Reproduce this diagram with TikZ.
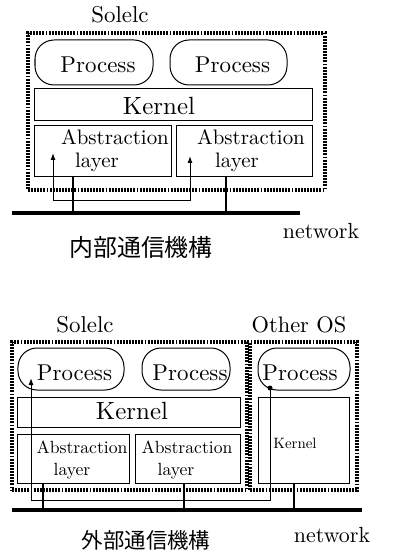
\documentclass[tikz,border=0pt]{standalone}
\usepackage{fontspec}
\setmainfont{lmroman10-regular}[Extension=.otf]
\newfontfamily\cjk{Noto Sans CJK JP}
\usetikzlibrary{arrows.meta}
\begin{document}
\begin{tikzpicture}[x=1bp,y=-1bp,
  every node/.style={inner sep=0pt, outer sep=0pt},
  dotbox/.style={draw, line width=3.3bp, dash pattern=on 1.9bp off 1.2bp},
  procbox/.style={draw, line width=1bp, rounded corners=19bp},
  plainbox/.style={draw, line width=1bp},
  lbl/.style={anchor=base, font=\fontsize{23}{27}\selectfont},
  klbl/.style={anchor=base, font=\fontsize{25}{29}\selectfont},
  absA/.style={anchor=base, font=\fontsize{21}{24}\selectfont},
  absB/.style={anchor=base, font=\fontsize{17.7}{21}\selectfont},
  small/.style={anchor=base, font=\fontsize{15}{18}\selectfont},
  net/.style={line width=3.2bp},
  link/.style={line width=2.6bp},
  sig/.style={line width=1bp},
  tip/.style={-{Latex[length=7bp,width=5bp]}}
]
\useasboundingbox (0,0) rectangle (395,552);

% ---------- top diagram ----------
\node[lbl] (sol1) at (120,23) {Solelc};
\node[dotbox, minimum width=297bp, minimum height=157bp] (o1) at (176.5,111.5) {};
\node[procbox, minimum width=118bp, minimum height=45bp] (p1) at (94,62.5) {};
\node[lbl] (p1t) at (98,73) {Process};
\node[procbox, minimum width=117bp, minimum height=45bp] (p2) at (228.5,62.5) {};
\node[lbl] (p2t) at (232.5,73) {Process};
\node[plainbox, minimum width=277bp, minimum height=32bp] (k1) at (173.5,105) {};
\node[klbl] (k1t) at (159,115) {Kernel};
\node[plainbox, minimum width=136bp, minimum height=51bp] (a1) at (103,151.5) {};
\node[absA] (a1t1) at (115,145) {Abstraction};
\node[absA] (a1t2) at (97,168) {layer};
\node[plainbox, minimum width=136bp, minimum height=51bp] (a2) at (244,151.5) {};
\node[absA] (a2t1) at (251,145) {Abstraction};
\node[absA] (a2t2) at (237,168) {layer};

\coordinate (nl1) at (12,213);
\coordinate (nr1) at (300,213);
\draw[net] (nl1) -- (nr1);
\coordinate (x1) at (73,0);
\coordinate (x2) at (226,0);
\draw[link] (a1.south -| x1) -- (x1 |- nl1);
\draw[link] (a2.south -| x2) -- (x2 |- nl1);

\coordinate (s1a) at (53,153);
\coordinate (s1c) at (53,201);
\coordinate (s1d) at (190,201);
\coordinate (s1b) at (190,156);
\draw[sig, {Latex[length=7bp,width=5bp]}-{Latex[length=7bp,width=5bp]}] (s1a) -- (s1c) -- (s1d) -- (s1b);

\node[lbl, font=\fontsize{22}{26}\selectfont] (nw1) at (321,238) {network};
\node[font=\cjk\fontsize{24}{28}\selectfont] (cj1) at (141,247) {内部通信機構};

% ---------- bottom diagram ----------
\node[lbl] (sol2) at (85,332) {Solelc};
\node[lbl, font=\fontsize{22.5}{26}\selectfont] (oos) at (299,332) {Other OS};
\node[dotbox, minimum width=235bp, minimum height=148bp] (o2) at (129.5,416) {};
\node[dotbox, minimum width=107bp, minimum height=148bp] (o3) at (303.5,416) {};
\node[procbox, minimum width=106bp, minimum height=42bp] (p3) at (71,369) {};
\node[lbl] (p3t) at (74.5,380) {Process};
\node[procbox, minimum width=88bp, minimum height=42bp] (p4) at (186,369) {};
\node[lbl] (p4t) at (190,380) {Process};
\node[procbox, minimum width=92bp, minimum height=42bp] (p5) at (304,369) {};
\node[lbl] (p5t) at (300,380) {Process};
\node[plainbox, minimum width=222bp, minimum height=30bp] (k2) at (129,412) {};
\node[klbl] (k2t) at (132,419) {Kernel};
\node[plainbox, minimum width=111bp, minimum height=49bp] (a3) at (73.5,458.5) {};
\node[absB] (a3t1) at (82,453) {Abstraction};
\node[absB] (a3t2) at (72,475) {layer};
\node[plainbox, minimum width=105bp, minimum height=49bp] (a4) at (187.5,458.5) {};
\node[absB] (a4t1) at (187,453) {Abstraction};
\node[absB] (a4t2) at (176,475) {layer};
\node[plainbox, minimum width=91bp, minimum height=86bp] (k3) at (303.5,440) {};
\node[small] (k3t) at (295,448) {Kernel};

\coordinate (nl2) at (12,510);
\coordinate (nr2) at (362,510);
\draw[net] (nl2) -- (nr2);
\coordinate (x3) at (43,0);
\coordinate (x4) at (184,0);
\coordinate (x5) at (294,0);
\draw[link] (a3.south -| x3) -- (x3 |- nl2);
\draw[link] (a4.south -| x4) -- (x4 |- nl2);
\draw[link] (k3.south -| x5) -- (x5 |- nl2);

\node[circle, fill, minimum size=5bp] (dot) at (270,388) {};
\coordinate (s2c) at (270,500);
\coordinate (s2d) at (31,500);
\coordinate (s2t) at (31,378);
\draw[sig, tip] (dot.center) -- (s2c) -- (s2d) -- (s2t);

\node[font=\cjk\fontsize{21.5}{25}\selectfont] (cj2) at (146,540) {外部通信機構};
\node[lbl, font=\fontsize{22}{26}\selectfont] (nw2) at (332,542) {network};
\end{tikzpicture}
\end{document}
